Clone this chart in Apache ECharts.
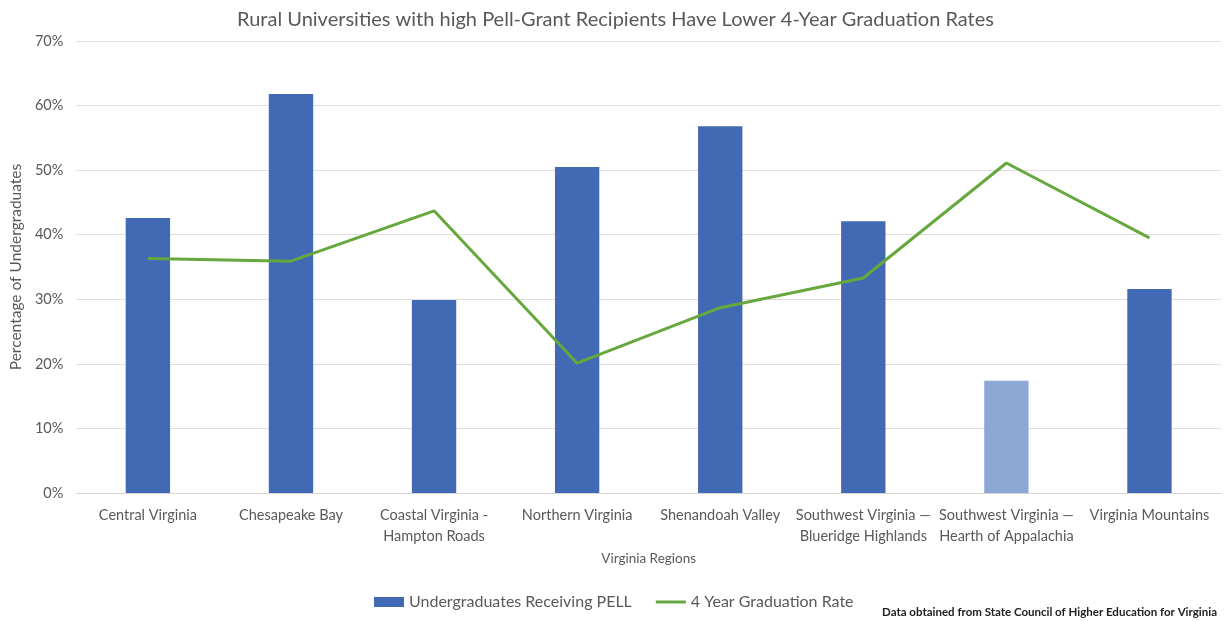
<!DOCTYPE html>
<html>
<head>
<meta charset="utf-8">
<script src="https://cdn.jsdelivr.net/npm/echarts@6/dist/echarts.min.js"></script>
<style>
  html, body { margin: 0; padding: 0; background: #fff; }
  #chart { width: 1231px; height: 621px; }
</style>
</head>
<body>
<div id="chart"></div>
<script>
var regions = [
  "Central Virginia",
  "Chesapeake Bay",
  "Coastal Virginia -\nHampton Roads",
  "Northern Virginia",
  "Shenandoah Valley",
  "Southwest Virginia \u2014\nBlueridge Highlands",
  "Southwest Virginia \u2014\nHearth of Appalachia",
  "Virginia Mountains"
];
var pellShare = [42.6, 61.8, 29.9, 50.5, 56.8, 42.1, 17.4, 31.6];
var gradRate = [36.3, 35.9, 43.7, 20.1, 28.7, 33.3, 51.1, 39.5];
var yTicks = [0, 10, 20, 30, 40, 50, 60, 70];

var font = "Lato, 'Open Sans', sans-serif";
var chart = echarts.init(document.getElementById("chart"));

var option = {
  animation: false,
  textStyle: { fontFamily: font },
  title: [
    {
      text: "Rural Universities with high Pell-Grant Recipients Have Lower 4-Year Graduation Rates",
      left: "center",
      top: 5,
      textStyle: { fontFamily: font, fontSize: 20, fontWeight: "normal", color: "#595959" }
    },
    {
      text: "Data obtained from State Council of Higher Education for Virginia",
      right: 9,
      top: 601,
      textStyle: { fontFamily: font, fontSize: 11.5, fontWeight: "bold", color: "#222" }
    }
  ],
  legend: {
    left: 369,
    top: 589,
    itemGap: 24,
    itemWidth: 30,
    itemHeight: 10,
    textStyle: { fontFamily: font, fontSize: 16, color: "#595959" },
    data: [
      { name: "Undergraduates Receiving PELL", icon: "rect" },
      { name: "4 Year Graduation Rate", icon: "path://M0 0H30V3H0Z" }
    ]
  },
  grid: { left: 75, right: 10, top: 41, bottom: 128 },
  xAxis: {
    type: "category",
    data: regions,
    name: "Virginia Regions",
    nameLocation: "middle",
    nameGap: 52,
    nameTextStyle: { fontFamily: font, fontSize: 13.5, color: "#595959" },
    axisTick: { show: false },
    axisLine: { lineStyle: { color: "#d9d4d4" } },
    axisLabel: {
      interval: 0,
      margin: 12,
      fontFamily: font,
      fontSize: 14.5,
      lineHeight: 21,
      color: "#595959"
    }
  },
  yAxis: {
    type: "value",
    min: 0,
    max: 70,
    interval: 10,
    name: "Percentage of Undergraduates",
    nameLocation: "middle",
    nameGap: 52,
    nameTextStyle: { fontFamily: font, fontSize: 15.5, color: "#595959" },
    axisLine: { show: false },
    axisTick: { show: false },
    axisLabel: {
      fontFamily: font,
      fontSize: 14.5,
      color: "#595959",
      margin: 13,
      formatter: function (v) {
        return yTicks.indexOf(v) >= 0 ? v + "%" : "";
      }
    },
    splitLine: { lineStyle: { color: "#e3dede" } }
  },
  series: [
    {
      name: "Undergraduates Receiving PELL",
      type: "bar",
      barWidth: "31%",
      itemStyle: { color: "#4169b4" },
      data: pellShare.map(function (v, i) {
        return i === 6 ? { value: v, itemStyle: { color: "#8ea8d5" } } : v;
      })
    },
    {
      name: "4 Year Graduation Rate",
      type: "line",
      symbol: "none",
      itemStyle: { color: "#66a83d" },
      lineStyle: { color: "#66a83d", width: 3 },
      data: gradRate
    }
  ]
};
chart.setOption(option);
</script>
</body>
</html>
